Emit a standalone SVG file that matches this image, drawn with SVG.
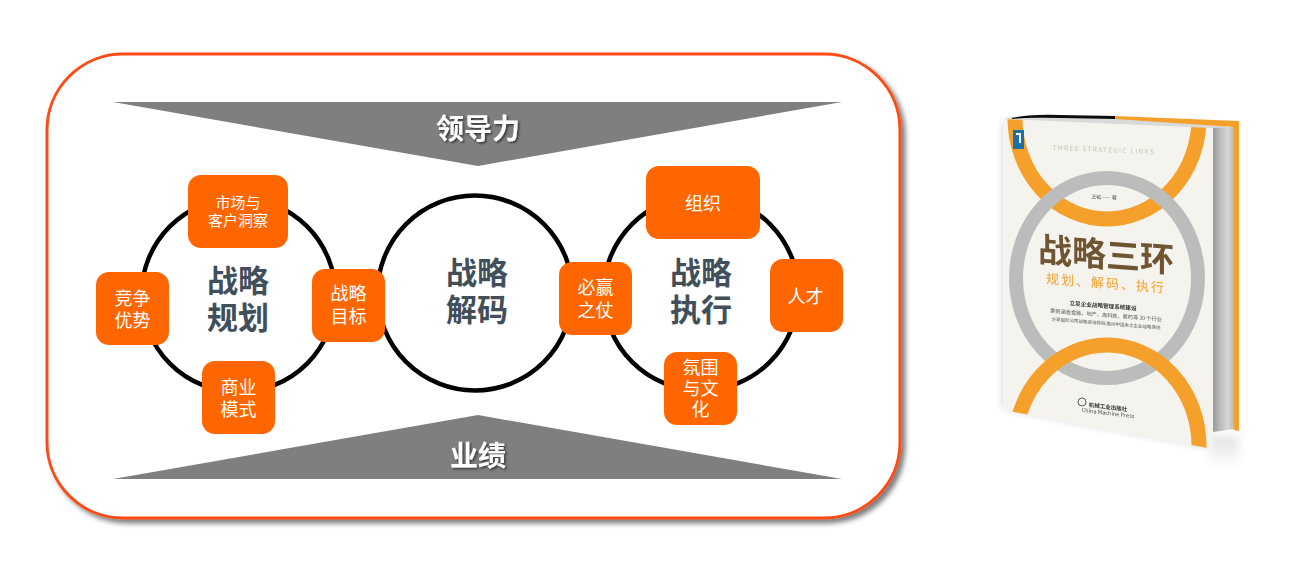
<svg xmlns="http://www.w3.org/2000/svg" width="1291" height="569" viewBox="0 0 1291 569">
<style>
text{font-family:"Noto Sans CJK SC","Noto Sans",sans-serif;text-anchor:middle}
.box{fill:#ff6600}
.lbl{fill:#fff;font-size:18px}
.lbls{fill:#fff;font-size:15px}
.ring{fill:#fff;stroke:#000;stroke-width:4.500}
.head{fill:#414f5a;font-size:31px;font-weight:700}
.tri{fill:#7f7f7f}
.ban{fill:#fff;font-size:28px;font-weight:700;filter:url(#ts)}
.or{fill:none;stroke:#f5a02a;stroke-width:15}
</style>
<defs>
<filter id="ts" x="-20%" y="-20%" width="140%" height="140%"><feDropShadow dx="1.5" dy="1.5" stdDeviation="1" flood-color="#000" flood-opacity=".6"/></filter>
<filter id="fs" x="-5%" y="-5%" width="110%" height="110%"><feDropShadow dx="4" dy="4" stdDeviation="2.5" flood-color="#000" flood-opacity=".5"/></filter>
<filter id="soft"><feGaussianBlur stdDeviation=".35"/></filter>
<filter id="bs" x="-20%" y="-20%" width="140%" height="140%"><feGaussianBlur stdDeviation="4"/></filter>
<clipPath id="cover"><polygon points="1003,119 1213,128 1213,449 1003,410"/></clipPath>
<linearGradient id="refl" x1="0" y1="0" x2="0" y2="1"><stop offset="0" stop-color="#e2e2e2"/><stop offset="1" stop-color="#fff"/></linearGradient>
<linearGradient id="pg" x1="0" y1="0" x2="1" y2="0"><stop offset="0" stop-color="#9a9a9a"/><stop offset=".35" stop-color="#bcbcbc"/><stop offset=".7" stop-color="#d6d6d6"/><stop offset="1" stop-color="#b8b8b8"/></linearGradient>
</defs>
<rect width="1291" height="569" fill="#fff"/>

<g id="frame"><rect x="47" y="54" width="853" height="464" rx="76" ry="76" fill="#fff" stroke="#fc4c14" stroke-width="3" filter="url(#fs)"/></g>

<g id="leadership"><polygon class="tri" points="113,102 842,102 478,166"/><text class="ban" x="478" y="139">领导力</text></g>
<g id="results"><polygon class="tri" points="113,479 842,479 478,415"/><text class="ban" x="478" y="466">业绩</text></g>

<g id="connectors">
<circle class="ring" cx="238.500" cy="295" r="97"/>
<circle class="ring" cx="475" cy="293" r="97.500"/>
<circle class="ring" cx="701" cy="293" r="97.500"/>
</g>

<g id="planning"><text class="head"><tspan x="238" y="292">战略</tspan><tspan x="238" y="329">规划</tspan></text></g>
<g id="decoding"><text class="head"><tspan x="477" y="284">战略</tspan><tspan x="477" y="321">解码</tspan></text></g>
<g id="execution"><text class="head"><tspan x="701" y="284">战略</tspan><tspan x="701" y="321">执行</tspan></text></g>

<g id="market"><rect class="box" x="188" y="175" width="100" height="73" rx="13"/><text class="lbls"><tspan x="238" y="208">市场与</tspan><tspan x="238" y="226">客户洞察</tspan></text></g>
<g id="advantage"><rect class="box" x="96" y="272" width="73" height="73" rx="13"/><text class="lbl"><tspan x="132.500" y="305">竞争</tspan><tspan x="132.500" y="327">优势</tspan></text></g>
<g id="goal"><rect class="box" x="312" y="269" width="73" height="73" rx="13"/><text class="lbl"><tspan x="348.500" y="300">战略</tspan><tspan x="348.500" y="323">目标</tspan></text></g>
<g id="model"><rect class="box" x="202" y="361" width="73" height="73" rx="13"/><text class="lbl"><tspan x="238.500" y="394">商业</tspan><tspan x="238.500" y="416">模式</tspan></text></g>
<g id="org"><rect class="box" x="646" y="166" width="114" height="73" rx="13"/><text class="lbl" x="703" y="210">组织</text></g>
<g id="talent"><rect class="box" x="770" y="259" width="73" height="73" rx="13"/><text class="lbl" x="805.500" y="303">人才</text></g>
<g id="battle"><rect class="box" x="559" y="262" width="73" height="73" rx="13"/><text class="lbl"><tspan x="595.500" y="294">必赢</tspan><tspan x="595.500" y="317">之仗</tspan></text></g>
<g id="culture"><rect class="box" x="664" y="352" width="73" height="73" rx="13"/><text class="lbl"><tspan x="700.500" y="374">氛围</tspan><tspan x="700.500" y="395">与文</tspan><tspan x="700.500" y="416">化</tspan></text></g>

<g id="book" filter="url(#soft)">
<polygon points="1003,122 1210,130 1210,447 1003,408" fill="#000" opacity=".18" filter="url(#bs)"/>
<rect x="1209" y="436" width="30" height="32" fill="url(#refl)" filter="url(#bs)"/>
<polygon points="1003,119 1012,117 1115,118 1234,127 1213,129" fill="#d9d9d9"/>
<polygon points="1213,128 1234,127 1234,429 1213,432" fill="url(#pg)"/>
<polygon points="1115,116 1239,121 1239,431 1234,430 1234,127 1115,119" fill="#f5a02a"/>
<path d="M1012,118 Q1030,114 1060,115 L1115,116 L1115,119 L1060,118 Q1030,117 1012,119Z" fill="#111"/>
<polygon points="1003,119 1213,128 1213,449 1003,410" fill="#f4f3ee"/>
<g clip-path="url(#cover)">
<ellipse class="or" cx="1107" cy="118" rx="92" ry="101"/>
<ellipse cx="1107" cy="278" rx="91" ry="100" fill="none" stroke="#bbbdbc" stroke-width="14"/>
<ellipse class="or" cx="1107" cy="446" rx="92" ry="101"/>
</g>
<rect x="1013" y="130" width="11" height="19" fill="#1a6fa8"/>
<path d="M1016,133 h5 v10 h-2 v-8 h-3z" fill="#fff"/>
<g transform="translate(1104 0) skewY(2.500)">
<text x="0" y="152" font-size="6.500" letter-spacing="1.300" fill="#c5c3b0">THREE STRATEGIC LINKS</text>
<text x="0" y="199" font-size="5" fill="#555">王钺 —— 著</text>
</g>
<g transform="translate(1106 0) skewY(4.500)">
<text x="0" y="267" font-size="34" font-weight="700" fill="#6f5431">战略三环</text>
<text x="0" y="288" font-size="13" letter-spacing="2" fill="#f5a02a">规划、解码、执行</text>
<text x="-3" y="308" font-size="5.600" font-weight="700" fill="#333">立足企业战略管理系统建设</text>
<text x="0" y="317" font-size="5.200" fill="#555">案例涵盖金融、地产、高科技、医药等 30 个行业</text>
<text x="0" y="325" font-size="4.500" fill="#555">分享国际公司战略咨询经验,推动中国本土企业战略落地</text>
</g>
<g transform="translate(1108 0) skewY(7)">
<text x="0" y="409" font-size="5.500" font-weight="700" fill="#333">机械工业出版社</text>
<text x="0" y="415" font-size="5.500" fill="#444">China Machine Press</text>
</g>
<circle cx="1082" cy="402" r="4" fill="none" stroke="#333" stroke-width=".8"/>
</g>
</svg>
